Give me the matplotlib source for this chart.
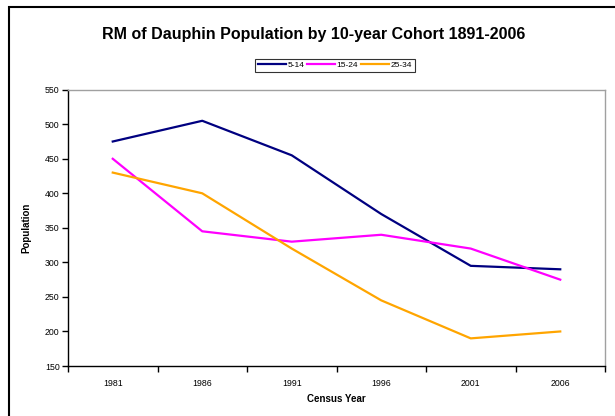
import matplotlib
matplotlib.use("Agg")
import matplotlib.pyplot as plt
from matplotlib.patches import Rectangle

plt.rcParams['font.family'] = ['Liberation Sans', 'DejaVu Sans']

years = ['1981', '1986', '1991', '1996', '2001', '2006']
age_5_14 = [475, 505, 455, 370, 295, 290]
age_15_24 = [450, 345, 330, 340, 320, 275]
age_25_34 = [430, 400, 320, 245, 190, 200]

fig = plt.figure(figsize=(6.15, 4.16), dpi=100)
# plot area: x 68..605 px, y 89.7..366 px
ax = fig.add_axes([68 / 615, 1 - 366 / 416, (605 - 68) / 615, (366 - 89.7) / 416])

x = range(len(years))
ax.plot(x, age_5_14, color='#000080', lw=1.6, label='5-14')
ax.plot(x, age_15_24, color='#ff00ff', lw=1.6, label='15-24')
ax.plot(x, age_25_34, color='#ffa500', lw=1.6, label='25-34')

ax.set_xlim(-0.5, 5.5)
ax.set_ylim(150, 550)
ax.set_yticks(range(150, 551, 50))
ax.set_xticks(list(x))
ax.set_xticklabels(years)
ax.set_xticks([i - 0.5 for i in range(len(years) + 1)], minor=True)
ax.tick_params(axis='x', which='major', length=0, pad=9, labelsize=6.3)
ax.tick_params(axis='x', which='minor', length=4, width=1, direction='out')
ax.tick_params(axis='y', length=4, width=1, direction='out', labelsize=6.3, pad=2)

for s in ['left', 'bottom']:
    ax.spines[s].set_color('black')
    ax.spines[s].set_linewidth(1)
for s in ['top', 'right']:
    ax.spines[s].set_color('#a0a0a0')
    ax.spines[s].set_linewidth(1)

ax.set_xlabel('Census Year', fontsize=7, fontweight='bold', labelpad=5)
ax.set_ylabel('Population', fontsize=7, fontweight='bold', labelpad=10)

fig.text(314 / 615, 1 - 35 / 416, 'RM of Dauphin Population by 10-year Cohort 1891-2006',
         ha='center', va='center', fontsize=11.5, fontweight='bold')

leg = fig.legend(loc='center', bbox_to_anchor=(335 / 615, 1 - 65.5 / 416), ncol=3,
                 fontsize=6, frameon=True, fancybox=False, handlelength=3.3,
                 handletextpad=0.2, columnspacing=0.4, borderpad=0.35,
                 borderaxespad=0)
leg.get_frame().set_edgecolor('black')
leg.get_frame().set_linewidth(0.8)

fig.patches.append(Rectangle((9 / 615, -0.02), 1.1, 1 - 7 / 416 + 0.02,
                             transform=fig.transFigure, fill=False,
                             edgecolor='black', lw=1.5))

fig.savefig('out.png', dpi=100)
